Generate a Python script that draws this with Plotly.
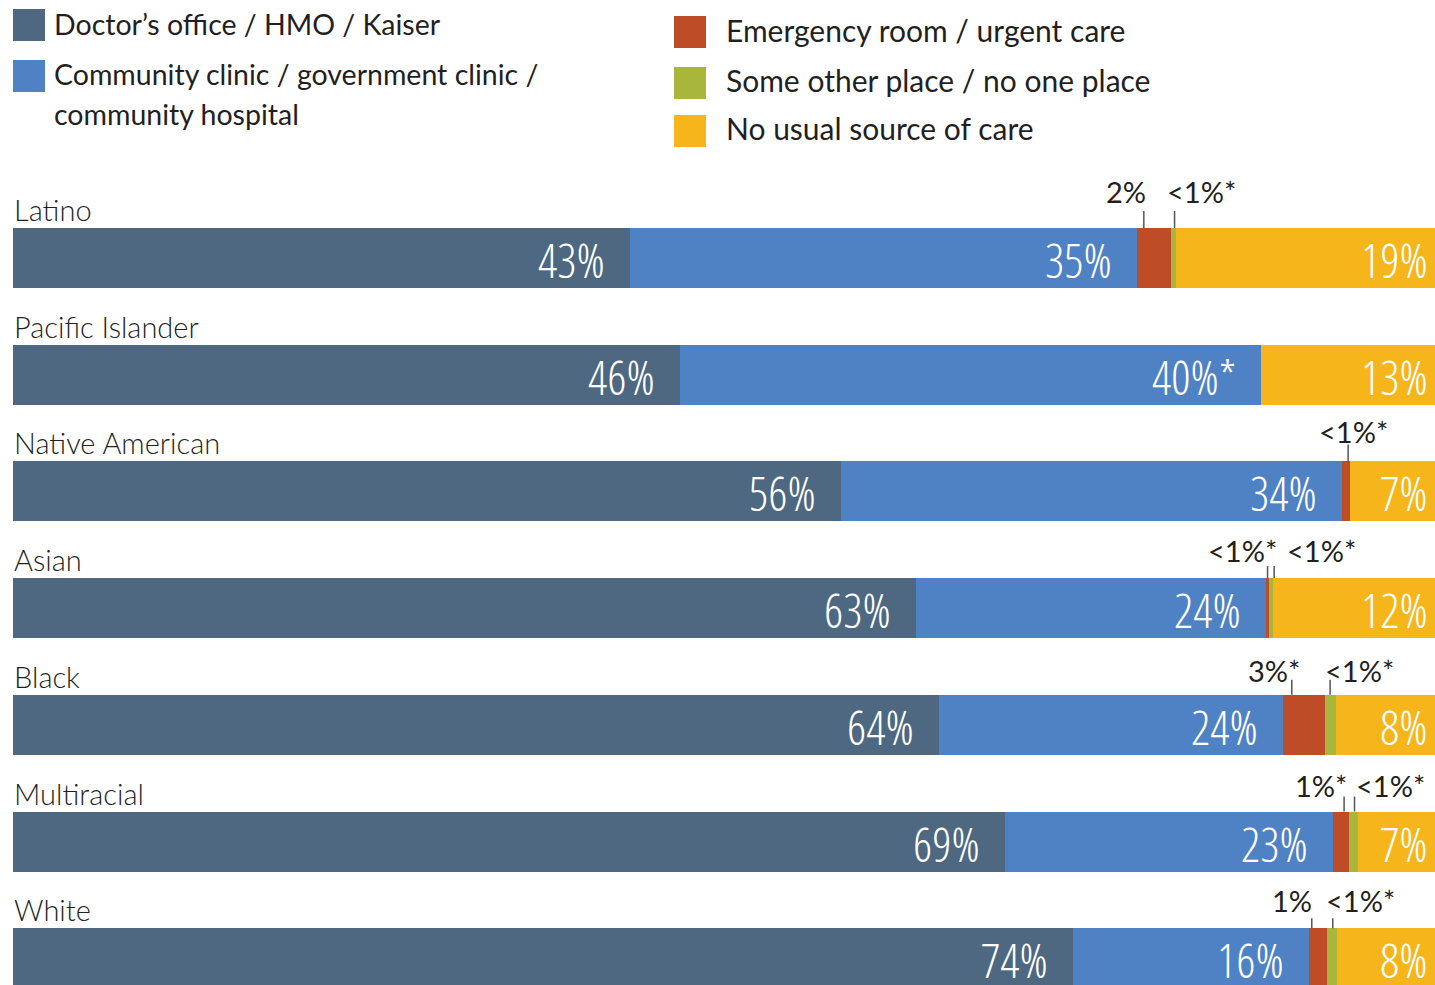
import plotly.graph_objects as go

# ---------------- data ----------------
groups = ["Latino", "Pacific Islander", "Native American", "Asian", "Black", "Multiracial", "White"]
series_names = [
    "Doctor’s office / HMO / Kaiser",
    "Community clinic / government clinic /",
    "Emergency room / urgent care",
    "Some other place / no one place",
    "No usual source of care",
]
series_name_line2 = "community hospital"

doctor = [43.0, 46.5, 57.7, 62.9, 64.5, 69.1, 73.9]
clinic = [35.3, 40.5, 34.9, 24.4, 24.0, 22.9, 16.4]
er = [2.4, 0.0, 0.6, 0.25, 2.9, 1.1, 1.25]
other = [0.35, 0.0, 0.0, 0.25, 0.77, 0.63, 0.7]
no_source = [19.0, 13.0, 6.8, 12.2, 7.8, 6.3, 7.8]

doctor_lbl = ["43%", "46%", "56%", "63%", "64%", "69%", "74%"]
clinic_lbl = ["35%", "40%*", "34%", "24%", "24%", "23%", "16%"]
er_lbl = ["2%", "", "<1%*", "<1%*", "3%*", "1%*", "1%"]
other_lbl = ["<1%*", "", "", "<1%*", "<1%*", "<1%*", "<1%*"]
none_lbl = ["19%", "13%", "7%", "12%", "8%", "7%", "8%"]

# ---------------- styles ----------------
colors = ["#4d6880", "#4f81c5", "#bd4c27", "#a8b73b", "#f5b51b"]
TEXT = "#231f20"
W, H = 1435, 985
PX_PER_UNIT_X = 14.35
X0_PX = 13
XMIN = -X0_PX / PX_PER_UNIT_X
XMAX = (W - X0_PX) / PX_PER_UNIT_X
ROW_PX = 116.7
FIRST_CENTER_PX = 258
YTOP = -FIRST_CENTER_PX / ROW_PX
YBOT = (H - FIRST_CENTER_PX) / ROW_PX
BAR_PX = 60
BAR_W = BAR_PX / ROW_PX
HALF = BAR_PX / 2

# per-row small label raise (baseline above bar top, px) and leader line length (px)
small_raise = [24, 0, 17, 15, 12, 14, 15]
line_len = [17, 0, 17, 12, 15, 15, 10]
# (line dx from segment centre, text anchor, text dx from line) for er / other
er_style = [(-10, "right", 4), None, (2, "center", 5), (0, "right", 11), (-12, "right", 10), (3, "right", 5), (-6, "right", 2)]
other_style = [(1, "left", -10), None, None, (3, "left", 11), (0, "left", -7), (1, "left", -1), (1, "left", -9)]

ys = list(range(len(groups)))
vals = [doctor, clinic, er, other, no_source]

fig = go.Figure()
for name, v, c in zip(series_names, vals, colors):
    fig.add_trace(go.Bar(
        y=ys, x=v, orientation="h", name=name, width=BAR_W,
        marker=dict(color=c, line=dict(width=0)), showlegend=False,
        hoverinfo="skip",
    ))

annotations = []
shapes = []
LABEL_FONT = dict(family="Lato, 'Open Sans', sans-serif", size=29, color=TEXT, weight=300)
SMALL_FONT = dict(family="Lato, 'Open Sans', sans-serif", size=29, color=TEXT)
VAL_FONT = dict(family="'Open Sans Condensed Light', 'Open Sans Condensed', 'Liberation Sans Narrow', sans-serif",
                size=48, color="white", weight=300)
VAL_BOX_H = 54

for i, g in enumerate(groups):
    # category label
    annotations.append(dict(x=0, y=i, xref="x", yref="y", text=g, showarrow=False,
                            xanchor="left", yanchor="bottom", yshift=HALF - 1, xshift=-1,
                            font=LABEL_FONT))
    cum = 0
    ends = []
    starts = []
    for v in vals:
        starts.append(cum)
        cum += v[i]
        ends.append(cum)
    # big value labels
    for k, lbl in [(0, doctor_lbl[i]), (1, clinic_lbl[i])]:
        annotations.append(dict(x=ends[k], y=i, xref="x", yref="y", text=lbl, showarrow=False,
                                xanchor="right", yanchor="middle", xshift=-23, yshift=-1,
                                height=VAL_BOX_H, valign="middle", font=VAL_FONT))
    annotations.append(dict(x=min(ends[4], XMAX), y=i, xref="x", yref="y", text=none_lbl[i], showarrow=False,
                            xanchor="right", yanchor="middle", xshift=-5, yshift=-1,
                            height=VAL_BOX_H, valign="middle", font=VAL_FONT))
    # small labels with leader lines
    for k, lbl, st in [(2, er_lbl[i], er_style[i]), (3, other_lbl[i], other_style[i])]:
        if not lbl or st is None:
            continue
        ldx, anchor, tdx = st
        cx = (starts[k] + ends[k]) / 2 + ldx / PX_PER_UNIT_X
        ytop_bar = i - BAR_W / 2
        shapes.append(dict(type="line", xref="x", yref="y", x0=cx, x1=cx,
                           y0=ytop_bar, y1=ytop_bar - line_len[i] / ROW_PX,
                           line=dict(color="#555555", width=1.5)))
        annotations.append(dict(x=cx, y=i, xref="x", yref="y", text=lbl, showarrow=False,
                                xanchor=anchor, yanchor="bottom", xshift=tdx,
                                yshift=HALF + small_raise[i] - 7, font=SMALL_FONT))

# legend (drawn manually)
LEG_FONT_L = dict(family="Lato, 'Open Sans', sans-serif", size=28.5, color=TEXT)
LEG_FONT_R = dict(family="Lato, 'Open Sans', sans-serif", size=30, color=TEXT)
legend_items = [
    (0, 13, 9, 52, [(series_names[0], 24)], LEG_FONT_L),
    (1, 13, 60, 52, [(series_names[1], 74), (series_name_line2, 114)], LEG_FONT_L),
    (2, 674, 16, 724, [(series_names[2], 30)], LEG_FONT_R),
    (3, 674, 67, 724, [(series_names[3], 80)], LEG_FONT_R),
    (4, 674, 115, 724, [(series_names[4], 128)], LEG_FONT_R),
]
for k, sx, sy, tx, lines, fnt in legend_items:
    shapes.append(dict(type="rect", xref="paper", yref="paper",
                       x0=sx / W, x1=(sx + 32) / W, y0=1 - sy / H, y1=1 - (sy + 32) / H,
                       fillcolor=colors[k], line=dict(width=0)))
    for txt, cy in lines:
        annotations.append(dict(x=tx / W, y=1 - cy / H, xref="paper", yref="paper", text=txt,
                                showarrow=False, xanchor="left", yanchor="middle", font=fnt))

fig.update_layout(
    width=W, height=H, barmode="stack", bargap=0,
    margin=dict(l=0, r=0, t=0, b=0, pad=0),
    paper_bgcolor="white", plot_bgcolor="white",
    xaxis=dict(range=[XMIN, XMAX], visible=False, fixedrange=True),
    yaxis=dict(range=[YBOT, YTOP], visible=False, fixedrange=True),
    annotations=annotations, shapes=shapes, showlegend=False,
)

fig.write_html("out.html", config={"displayModeBar": False},
               post_script="document.body.style.margin='0';document.body.style.overflow='hidden';")
